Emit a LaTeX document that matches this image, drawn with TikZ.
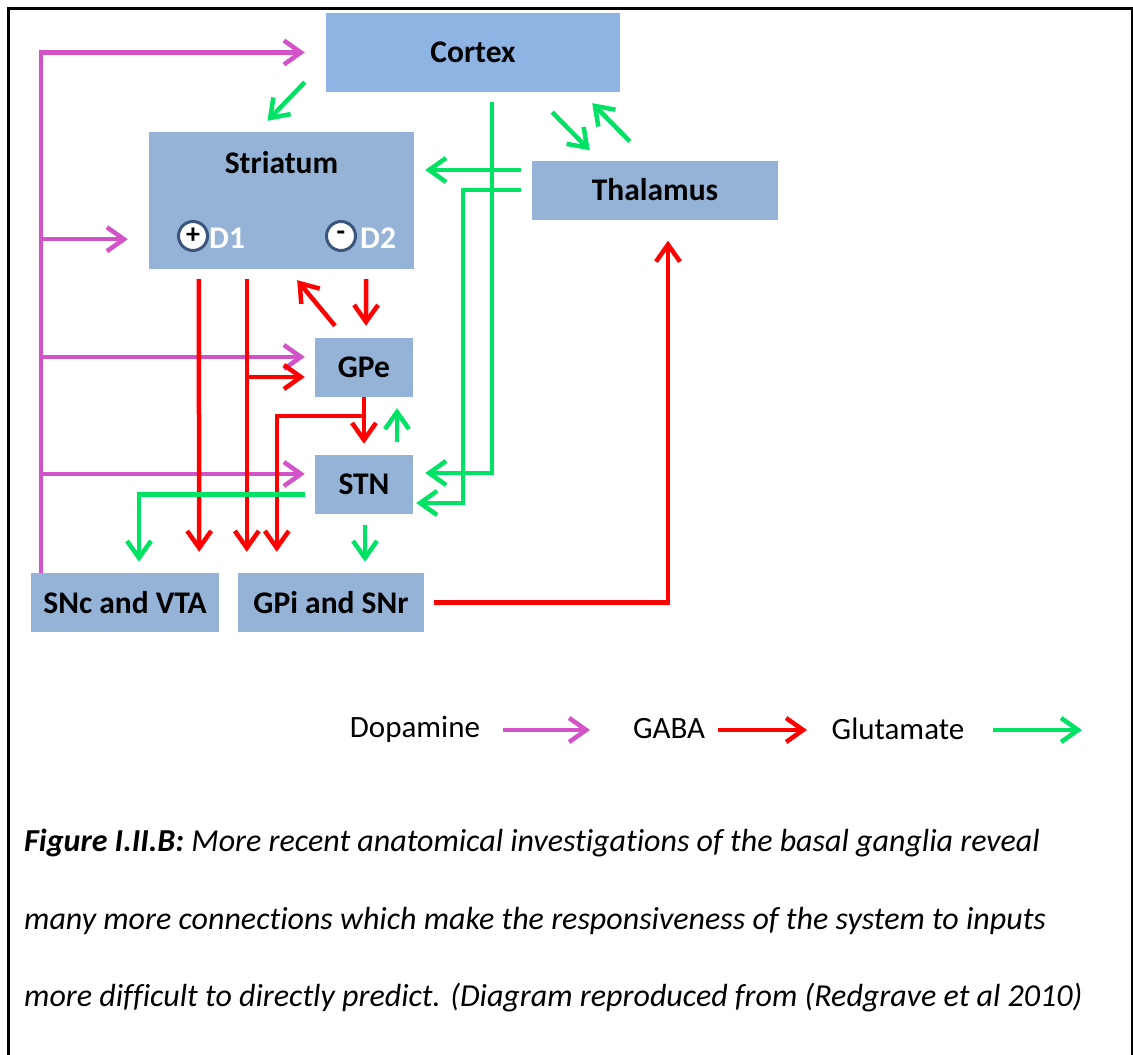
\documentclass[tikz,border=0pt]{standalone}
\usepackage{fontspec}
\setmainfont{Carlito}[Ligatures=NoCommon]
\usepackage{tikz}
\usetikzlibrary{arrows.meta,calc,positioning}

\definecolor{regionblue}{RGB}{149,179,215}
\definecolor{cortexblue}{RGB}{142,180,227}
\definecolor{dopacol}{RGB}{212,82,200}
\definecolor{gabacol}{RGB}{255,0,0}
\definecolor{glutcol}{RGB}{0,226,100}
\definecolor{ringcol}{RGB}{60,85,125}

\begin{document}
\begin{tikzpicture}[x=1pt,y=-1pt,
  region/.style={fill=regionblue,inner sep=0pt,font=\fontsize{31.5}{36}\selectfont\bfseries},
  tip/.style={-{Straight Barb[length=17pt,width=24pt]}},
  dopa/.style={tip,draw=dopacol,line width=4.5pt},
  gaba/.style={tip,draw=gabacol,line width=4.5pt},
  glut/.style={tip,draw=glutcol,line width=4.5pt},
  ring/.style={circle,draw=ringcol,line width=3pt,fill=white,minimum size=29pt,inner sep=0pt,font=\fontsize{28}{30}\selectfont\bfseries},
  legtext/.style={font=\fontsize{31}{36}\selectfont,inner sep=0pt},
  captext/.style={anchor=west,inner sep=0pt,font=\fontsize{32}{38}\selectfont\itshape}]

  \useasboundingbox (0,0) rectangle (1133,1055);

  % Frame
  \draw[line width=3pt] (8,1058) -- (8,8) -- (1132,8) -- (1132,1058);

  % Regions
  \node[region,fill=cortexblue,minimum width=294pt,minimum height=79pt] (cortex) at (473,52.5) {Cortex};
  \node[region,minimum width=265pt,minimum height=137pt] (striatum) at (281.5,200.5) {};
  \node[region,fill=none] (striatumlbl) at ($(striatum.north)+(0,31)$) {Striatum};
  \node[region,minimum width=246pt,minimum height=59pt] (thalamus) at (655,190) {Thalamus};
  \node[region,minimum width=98pt,minimum height=59pt] (gpe) at (364,367.5) {GPe};
  \node[region,minimum width=98pt,minimum height=59pt] (stn) at (364,484.5) {STN};
  \node[region,minimum width=188pt,minimum height=59pt] (snc) at (125,602.5) {SNc and VTA};
  \node[region,minimum width=186pt,minimum height=59pt] (gpi) at (331,602.5) {GPi and SNr};

  % Receptors
  \node[ring] (d1ring) at (193,236) {+};
  \node[region,fill=none,text=white,anchor=west] (d1) at (209,238) {D1};
  \node[ring] (d2ring) at (341,236) {-};
  \node[region,fill=none,text=white,anchor=west] (d2) at (360,238) {D2};

  % Dopamine
  \coordinate (dopabus) at ($(snc.north west)+(10,0)$);
  \draw[dopa] (dopabus) |- ($(cortex.west)+(-21,0)$);
  \foreach \tgt/\dx/\dy [count=\i] in {striatum.south west/-21/-30, gpe.west/-10/-10.5, stn.west/-10/-10.5}
    {\coordinate (dopaend\i) at ($(\tgt)+(\dx,\dy)$);
     \draw[dopa] (dopabus |- dopaend\i) -- (dopaend\i);}

  % GABA
  \coordinate (d1path) at ($(striatum.south west)+(98,10)$);
  \coordinate (gpebranch) at ($(gpe.west)+(-10,9.5)$);
  \draw[gaba] ($(striatum.south west)+(50,10)$) -- ($(snc.north east)+(-20,-21)$);
  \draw[gaba] (d1path) -- ($(gpi.north west)+(9,-21)$);
  \draw[gaba] (d1path |- gpebranch) -- (gpebranch);
  \draw[gaba] ($(striatum.south east)+(-48,10)$) -- ($(gpe.north)+(2,-12)$);
  \draw[gaba] ($(gpe.north)+(-29,-12)$) -- ($(striatum.south east)+(-117,11)$);
  \draw[gaba] (gpe.south) -- ($(stn.north)+(0,-11)$);
  \draw[gaba] ($(gpe.south)+(0,19)$) -| ($(gpi.north west)+(39,-21)$);
  \draw[gaba] ($(gpi.east)+(10,0)$) -| ($(thalamus.south)+(13,21)$);

  % Glutamate
  \draw[glut] ($(cortex.south west)+(-21,-10)$) -- ($(striatum.north)+(-14,-11)$);
  \draw[glut] ($(cortex.south)+(19,10)$) |- ($(stn.east)+(12,-11.5)$);
  \draw[glut] ($(thalamus.west)+(-11,-20)$) -- ($(striatum.east)+(11,-30.5)$);
  \draw[glut] ($(thalamus.west)+(-11,0)$) -| ($(stn.east)+(50,18.5)$) -- ($(stn.east)+(3,18.5)$);
  \draw[glut] ($(cortex.south east)+(-68,20)$) -- ($(thalamus.north west)+(58,-10)$);
  \draw[glut] ($(thalamus.north west)+(98,-19)$) -- ($(cortex.south east)+(-28,11)$);
  \draw[glut] ($(stn.north)+(33,-13)$) -- ($(gpe.south)+(33,11)$);
  \draw[glut] ($(stn.south)+(1,11)$) -- ($(gpi.north)+(34,-11)$);
  \draw[glut] ($(stn.west)+(-10,10)$) -| ($(snc.north)+(14,-11)$);

  % Legend
  \node[legtext] (dopaleg) at (415,729) {Dopamine};
  \node[legtext] (gabaleg) at (669,729) {GABA};
  \node[legtext] (glutleg) at (898,729) {Glutamate};
  \coordinate (dopakey) at (503,730);
  \coordinate (gabakey) at (718,730);
  \coordinate (glutkey) at (993,730);
  \draw[dopa] (dopakey) -- ++(87,0);
  \draw[gaba] (gabakey) -- ++(89,0);
  \draw[glut] (glutkey) -- ++(89,0);

  % Caption
  \node[captext] (cap1) at (24,843) {\textbf{Figure I.II.B:} More recent anatomical investigations of the basal ganglia reveal};
  \node[captext] (cap2) at (24,921) {many more connections which make the responsiveness of the system to inputs};
  \node[captext] (cap3) at (24,998) {more difficult to directly predict. (Diagram reproduced from (Redgrave et al 2010)};
\end{tikzpicture}
\end{document}
